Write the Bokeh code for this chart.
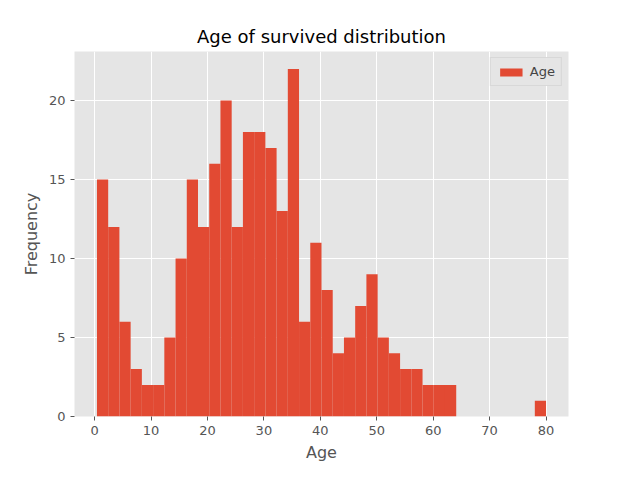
import numpy as np
from bokeh.plotting import figure
from bokeh.models import Range1d, Legend, LegendItem
from bokeh.embed import file_html
from bokeh.resources import INLINE

# histogram of survived ages, 40 bins between min and max age
age_min = 0.42
age_max = 80.0
counts = [15, 12, 6, 3, 2, 2, 5, 10, 15, 12,
          16, 20, 12, 18, 18, 17, 13, 22, 6, 11,
          8, 4, 5, 7, 9, 5, 4, 3, 3, 2,
          2, 2, 0, 0, 0, 0, 0, 0, 0, 1]
x_ticks = [0, 10, 20, 30, 40, 50, 60, 70, 80]
y_ticks = [0, 5, 10, 15, 20]

edges = np.linspace(age_min, age_max, len(counts) + 1)

p = figure(width=620, height=464, output_backend="svg", toolbar_location=None,
           min_border_left=74, min_border_right=52, min_border_top=51, min_border_bottom=45,
           title="Age of survived distribution")
p.x_range = Range1d(-3.56, 83.98)
p.y_range = Range1d(0, 23.1)

p.background_fill_color = "#E5E5E5"
p.border_fill_color = "white"
p.outline_line_color = None
p.grid.grid_line_color = "white"
p.grid.grid_line_width = 1

p.title.align = "center"
p.title.text_font = "DejaVu Sans"
p.title.text_font_size = "18px"
p.title.text_font_style = "normal"
p.title.text_color = "black"

for ax in (p.xaxis, p.yaxis):
    ax.axis_line_color = None
    ax.major_tick_line_color = "#555555"
    ax.major_tick_in = 0
    ax.major_tick_out = 4
    ax.minor_tick_line_color = None
    ax.major_label_text_font = "DejaVu Sans"
    ax.major_label_text_font_size = "13px"
    ax.major_label_text_color = "#555555"
    ax.axis_label_text_font = "DejaVu Sans"
    ax.axis_label_text_font_size = "16px"
    ax.axis_label_text_font_style = "normal"
    ax.axis_label_text_color = "#555555"
p.xaxis.ticker = x_ticks
p.yaxis.ticker = y_ticks
p.xaxis.axis_label = "Age"
p.yaxis.axis_label = "Frequency"

r = p.quad(left=edges[:-1], right=edges[1:], bottom=0, top=counts,
           fill_color="#E24A33", line_color=None)

legend = Legend(items=[LegendItem(label="Age", renderers=[r])], location="top_right")
legend.label_text_font = "DejaVu Sans"
legend.label_text_font_size = "13px"
legend.border_line_color = "#CCCCCC"
legend.background_fill_color = "#E5E5E5"
legend.glyph_width = 28
legend.glyph_height = 10
legend.padding = 6
legend.margin = 6
p.add_layout(legend)

open("out.html", "w").write(file_html(p, INLINE))
